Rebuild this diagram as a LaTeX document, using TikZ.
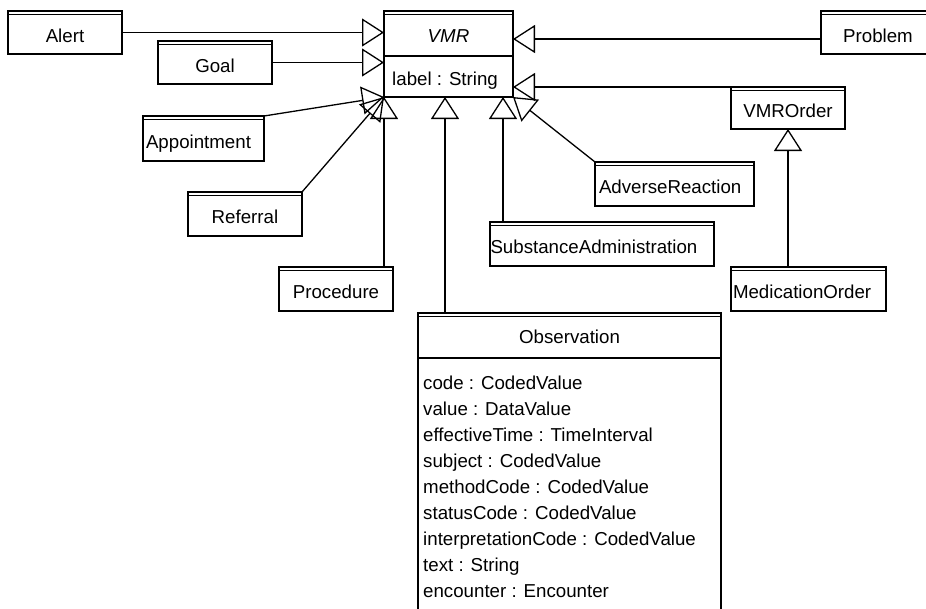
\documentclass[tikz,border=0pt]{standalone}
\usepackage{fontspec}
\setmainfont{Liberation Sans}
\usetikzlibrary{arrows.meta}
\tikzset{
  cls/.style={draw, line width=1.5pt, outer sep=0pt, inner sep=0pt, anchor=north west,
    text height=19pt, text depth=0pt},
  clsL/.style={cls, inner xsep=#1, align=left},
  gen/.style={line width=1.3pt, -{Triangle[open, length=22pt, width=28pt, line width=1.3pt]}, line join=miter},
  attr/.style={anchor=base west, inner sep=0pt},
}
\begin{document}
\begin{tikzpicture}[x=1pt, y=-1pt, font=\fontsize{18.7}{22}\selectfont]
\useasboundingbox (0,0) rectangle (926,608);
\clip (0,0) rectangle (926,608);
% classes
\node[cls, minimum width=114pt, minimum height=43pt] (Alert) at (8,11) {Alert};
\node[cls, minimum width=114pt, minimum height=43pt] (Goal) at (158,41) {Goal};
\node[cls, minimum width=114pt, minimum height=43pt] (Problem) at (821,11) {Problem};
\node[cls, minimum width=129pt, minimum height=86pt] (VMR) at (384,11) {};
\node[inner sep=0pt, anchor=base, font=\fontsize{18.7}{22}\selectfont\itshape] (VMRname) at (448.5,42) {VMR};
\node[attr] (VMRlabel) at (392,85) {label : String};
\draw[line width=1.5pt] (VMR.west |- 0,56) coordinate (vmrd1) -- (VMR.east |- vmrd1);
\node[cls, minimum width=114pt, minimum height=42pt] (VMROrder) at (731,87) {VMROrder};
\node[clsL=3pt, minimum width=121pt, minimum height=45pt, text width=115pt] (Appointment) at (143,116) {Appointment};
\node[cls, minimum width=114pt, minimum height=44pt] (Referral) at (188,192) {Referral};
\node[cls, minimum width=114pt, minimum height=44pt] (Procedure) at (279,267) {Procedure};
\node[clsL=4pt, minimum width=159pt, minimum height=44pt, text width=151pt] (AdverseReaction) at (595,162) {AdverseReaction};
\node[clsL=0.5pt, minimum width=224pt, minimum height=44pt, text width=223pt] (SubstanceAdministration) at (490,222) {SubstanceAdministration};
\node[clsL=2pt, minimum width=155pt, minimum height=44pt, text width=151pt] (MedicationOrder) at (731,267) {MedicationOrder};
\node[cls, minimum width=303pt, minimum height=330pt] (Observation) at (418,313) {};
\node[inner sep=0pt, anchor=base] (ObsName) at (569.5,343) {Observation};
\draw[line width=1.5pt] (Observation.west |- 0,358) coordinate (obsd1) -- (Observation.east |- obsd1);
\node[attr] (o1) at (423,389) {code : CodedValue};
\node[attr] (o2) at (423,415) {value : DataValue};
\node[attr] (o3) at (423,441) {effectiveTime : TimeInterval};
\node[attr] (o4) at (423,467) {subject : CodedValue};
\node[attr] (o5) at (423,493) {methodCode : CodedValue};
\node[attr] (o6) at (423,519) {statusCode : CodedValue};
\node[attr] (o7) at (423,545) {interpretationCode : CodedValue};
\node[attr] (o8) at (423,571) {text : String};
\node[attr] (o9) at (423,597) {encounter : Encounter};
% double top lines
\foreach \n in {Alert,Goal,Problem,VMR,VMROrder,Appointment,Referral,Procedure,AdverseReaction,SubstanceAdministration,MedicationOrder,Observation}
  \draw[line width=0.9pt] ([yshift=-3.5pt]\n.north west) -- ([yshift=-3.5pt]\n.north east);
% generalizations
\coordinate (vmrObs) at ([xshift=-3.5pt]VMR.south);
\coordinate (vmrSub) at ([xshift=-10pt]VMR.south east);
\coordinate (probPt) at ([yshift=-6.5pt]Problem.west);
\draw[gen] (Alert.east) -- (Alert.east -| VMR.west);
\draw[gen] (Goal.east) -- (Goal.east -| VMR.west);
\draw[gen] (probPt) -- (probPt -| VMR.east);
\draw[gen] (VMROrder.north west) -- (VMROrder.north west -| VMR.east);
\draw[gen] (Appointment.north east) -- (VMR.south west);
\draw[gen] (Referral.north east) -- (VMR.south west);
\draw[gen] (VMR.south west |- Procedure.north) -- (VMR.south west);
\draw[gen] (vmrObs |- Observation.north) -- (vmrObs);
\draw[gen] (vmrSub |- SubstanceAdministration.north) -- (vmrSub);
\draw[gen] (AdverseReaction.north west) -- (VMR.south east);
\draw[gen] (VMROrder.south |- MedicationOrder.north) -- (VMROrder.south);
\end{tikzpicture}
\end{document}
